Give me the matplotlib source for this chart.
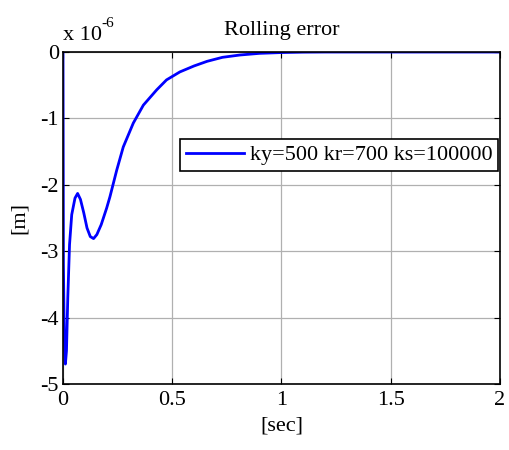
import matplotlib
matplotlib.use("Agg")
import matplotlib.pyplot as plt

# rolling error (units of 1e-6 m)
t = [0, 0.002, 0.006, 0.011, 0.016, 0.022, 0.03, 0.04, 0.055, 0.067, 0.08,
     0.095, 0.11, 0.125, 0.14, 0.155, 0.175, 0.2, 0.215, 0.246, 0.276, 0.322,
     0.368, 0.429, 0.474, 0.535, 0.6, 0.66, 0.73, 0.81, 0.9, 1.0, 1.1, 1.2, 2.0]
err = [0, -3.2, -4.3, -4.7, -4.5, -3.7, -2.9, -2.45, -2.2, -2.13, -2.22,
       -2.42, -2.65, -2.78, -2.81, -2.75, -2.6, -2.35, -2.18, -1.78, -1.43, -1.07,
       -0.8, -0.57, -0.42, -0.3, -0.21, -0.14, -0.08, -0.045, -0.02, -0.008, -0.002, 0, 0]
label = "ky=500 kr=700 ks=100000"
xticks = [0, 0.5, 1, 1.5, 2]
xticklabels = ['0', '0.5', '1', '1.5', '2']
yticks = [-5, -4, -3, -2, -1, 0]

plt.rcParams['font.family'] = ['Liberation Serif', 'DejaVu Serif']
plt.rcParams['axes.unicode_minus'] = False
fs = 16

fig = plt.figure(figsize=(5.1, 4.5), dpi=100)
ax = fig.add_axes([0.1235, 0.1467, 0.8565, 0.7377])
ax.plot(t, err, color='#0000ff', lw=2, label=label)
ax.set_xlim(0, 2)
ax.set_ylim(-5, 0)
ax.set_xticks(xticks)
ax.set_xticklabels(xticklabels)
ax.set_yticks(yticks)
ax.grid(True, color='#b0b0b0', lw=0.9)
ax.tick_params(direction='in', top=True, right=True, length=4, labelsize=fs)
ax.tick_params(axis='x', pad=5)
ax.tick_params(axis='y', pad=3)
for s in ax.spines.values():
    s.set_linewidth(1.2)
ax.set_title("Rolling error", fontsize=fs, pad=12)
ax.set_xlabel("[sec]", fontsize=fs, labelpad=5)
ax.set_ylabel("[m]", fontsize=fs, labelpad=8)
ax.text(0.0, 1.02, 'x 10', transform=ax.transAxes, fontsize=fs, va='bottom', ha='left')
ax.text(0.088, 1.065, '-6', transform=ax.transAxes, fontsize=11, va='bottom', ha='left')
leg = ax.legend(loc='upper right', bbox_to_anchor=(0.997, 0.737), fancybox=False,
                edgecolor='black', framealpha=1, handlelength=2.6, borderpad=0.25,
                handletextpad=0.3, borderaxespad=0, fontsize=fs)
leg.get_frame().set_linewidth(1.2)

fig.savefig("out.png", dpi=100)
